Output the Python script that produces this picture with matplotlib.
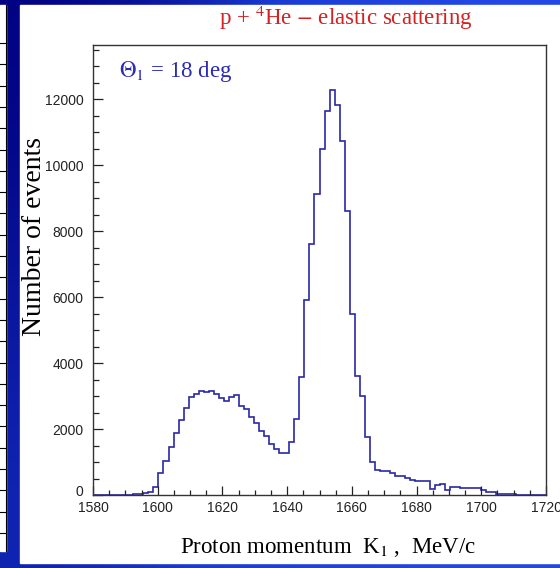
import matplotlib
matplotlib.use("Agg")
import matplotlib.pyplot as plt
import matplotlib.transforms as mtransforms
import numpy as np
from matplotlib.colors import LinearSegmentedColormap
from matplotlib.patches import Rectangle
from matplotlib.ticker import MultipleLocator

# histogram: 90 bins from 1580 to 1720 MeV/c
x_min, x_max, n_bins = 1580, 1720, 90
counts = [
    0, 0, 0, 0, 0, 0, 0, 0, 30, 30,
    50, 100, 250, 680, 1040, 1460, 1870, 2270, 2630, 2980,
    3060, 3160, 3130, 3160, 3060, 2930, 2860, 2980, 3030, 2700,
    2600, 2370, 2190, 1940, 1790, 1545, 1385, 1280, 1280, 1615,
    2320, 3580, 5900, 7600, 9140, 10500, 11640, 12270, 11840, 10740,
    8600, 5500, 3600, 3000, 1770, 1010, 760, 730, 730, 660,
    580, 580, 525, 455, 425, 425, 425, 170, 300, 330,
    150, 250, 250, 200, 200, 200, 200, 150, 100, 100,
    30, 30, 30, 30, 0, 0, 0, 0, 0, 0,
]
x_ticks = [1580, 1600, 1620, 1640, 1660, 1680, 1700, 1720]
y_ticks = [0, 2000, 4000, 6000, 8000, 10000, 12000]
y_top = 13650

W, H = 560, 568


def fx(px):
    return px / W


def fy(py):
    return 1 - py / H


plt.rcParams["mathtext.fontset"] = "stix"
fig = plt.figure(figsize=(W / 100, H / 100), dpi=100)

# slide background: blue gradient, white panel
bg = fig.add_axes([0, 0, 1, 1], zorder=-10)
cmap = LinearSegmentedColormap.from_list("slide", ["#00007e", "#1a3ad4", "#2448e6"])
bg.imshow([[0.0, 0.5, 1.0], [0.3, 0.7, 1.0]], cmap=cmap, aspect="auto",
          extent=[0, 1, 0, 1], interpolation="bicubic")
bg.add_patch(Rectangle((fx(20), fy(563)), fx(540), 558 / H, color="white",
                       transform=bg.transAxes))
bg.add_patch(Rectangle((0, fy(551)), fx(6), 546 / H, color="white",
                       transform=bg.transAxes))
bg.plot([fx(6), fx(6)], [fy(5), fy(551)], color="black", lw=0.8,
        transform=bg.transAxes)
for yy in np.arange(43, 551, 21.3):
    bg.plot([0, fx(6)], [fy(yy), fy(yy)], color="black", lw=0.8,
            transform=bg.transAxes)
bg.set_xlim(0, 1)
bg.set_ylim(0, 1)
bg.axis("off")

ax = fig.add_axes([fx(93), fy(495), fx(546 - 93), (495 - 45) / H])
ax.set_facecolor("white")

edges = np.linspace(x_min, x_max, n_bins + 1)
ax.stairs(counts, edges, color="#2a28a6", lw=1.2, baseline=0)

ax.set_xlim(x_min, x_max)
ax.set_ylim(0, y_top)
ax.set_xticks(x_ticks)
ax.set_yticks(y_ticks)
ax.xaxis.set_minor_locator(MultipleLocator(5))
ax.yaxis.set_minor_locator(MultipleLocator(500))
ax.tick_params(which="both", direction="in", top=False, right=False,
               labelsize=10, width=0.9, color="#222222", labelcolor="#222222")
ax.tick_params(axis="y", which="major", length=7.5, pad=7)
ax.tick_params(axis="y", which="minor", length=4.3)
ax.tick_params(axis="x", which="major", length=6.5, pad=4)
ax.tick_params(axis="x", which="minor", length=3.5)
for lab in ax.get_xticklabels() + ax.get_yticklabels():
    lab.set_fontfamily("Liberation Sans")
# ROOT puts the "0" slightly above the x labels
zero_lab = ax.yaxis.get_major_ticks()[0].label1
zero_lab.set_transform(zero_lab.get_transform()
                       + mtransforms.ScaledTranslation(0, 4 / 100, fig.dpi_scale_trans))
for sp in ax.spines.values():
    sp.set_linewidth(1.0)
    sp.set_color("#333333")

serif = {"family": "Liberation Serif"}

fig.text(fx(346), fy(25), r"p + $^4$He $-$ elastic scattering", color="#d42222",
         fontsize=16.5, ha="center", va="baseline", fontdict=serif)
fig.text(fx(119), fy(77), r"$\Theta_1$ = 18 deg", color="#2b2bb4", fontsize=16.5,
         ha="left", va="baseline", fontdict=serif)
fig.text(fx(328), fy(553), r"Proton momentum  K$_1$ ,  MeV/c", color="black",
         fontsize=16.5, ha="center", va="baseline", fontdict=serif)
fig.text(fx(41), fy(237), "Number of events", color="black", fontsize=20,
         rotation=90, ha="center", va="baseline", rotation_mode="anchor",
         fontdict=serif)

fig.savefig("out.png", dpi=100)
